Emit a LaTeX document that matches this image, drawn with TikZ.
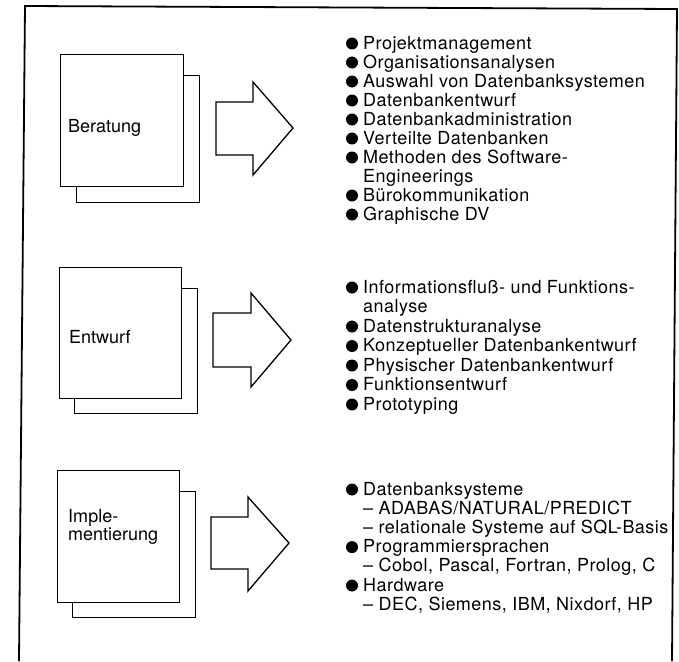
\documentclass[tikz,border=0pt]{standalone}
\usepackage{fontspec}
\setmainfont{TeX Gyre Heros}
\newfontfamily\listfont[LetterSpace=2.6]{TeX Gyre Heros}
\usetikzlibrary{calc}
\begin{document}
\begin{tikzpicture}[x=1pt,y=-1pt,
  frame/.style={line width=1.8pt,line join=miter},
  page/.style={draw,fill=white,line width=1.3pt,minimum width=123pt,minimum height=132pt,inner sep=0pt,anchor=north west},
  blockarrow/.style={draw,fill=white,line width=1.3pt,line join=miter},
  item/.style={anchor=base west,inner sep=0pt,font=\listfont\fontsize{18}{19}\selectfont},
  lbl/.style={anchor=base west,inner sep=0pt,font=\fontsize{18}{18}\selectfont,align=left},
  bul/.style={fill=black}]
\useasboundingbox (0,0) rectangle (679,661);
\fill[white] (0,0) rectangle (679,661);
% outer frame
\draw[frame] (19,661) -- (25,6) -- (677,9) -- (672,661);

% ---------- Beratung ----------
\node[page,minimum height=127pt] (b1back) at (76,75) {};
\node[page] (b1) at (60,54) {};
\node[lbl] (b1t) at (68,132) {Beratung};
\draw[blockarrow] (216,102) -- (253,102) -- (253,82) -- (293,128) -- (253,175) -- (253,155) -- (216,155) -- cycle;

\foreach \t [count=\i from 0] in {Projektmanagement,Organisationsanalysen,Auswahl von Datenbanksystemen,Datenbankentwurf,Datenbankadministration,Verteilte Datenbanken,Methoden des Software-,Engineerings,Bürokommunikation,Graphische DV}{
  \node[item] (a\i) at (363,49+19*\i) {\t};
}
\foreach \i in {0,1,2,3,4,5,6,8,9}{
  \fill[bul] ($(a\i.base west)+(-11,-5.5)$) circle (6);
}

% ---------- Entwurf ----------
\node[page,minimum height=125pt] (b2back) at (74,288) {};
\node[page,minimum width=122pt,minimum height=131pt] (b2) at (59,267) {};
\node[lbl] (b2t) at (69,343) {Entwurf};
\draw[blockarrow] (213,313) -- (251,313) -- (251,293) -- (291,340) -- (251,387) -- (251,367) -- (213,367) -- cycle;

\foreach \t [count=\i from 0] in {Informationsfluß- und Funktions-,analyse,Datenstrukturanalyse,Konzeptueller Datenbankentwurf,Physischer Datenbankentwurf,Funktionsentwurf,Prototyping}{
  \node[item] (e\i) at (363,293+19.5*\i) {\t};
}
\foreach \i in {0,2,3,4,5,6}{
  \fill[bul] ($(e\i.base west)+(-11,-5.5)$) circle (6);
}

% ---------- Implementierung ----------
\node[page,minimum height=126pt] (b3back) at (72,491) {};
\node[page,minimum width=122pt] (b3) at (57,470) {};
\node[lbl] (b3t) at (68,540) {Imple-\\mentierung};
\draw[blockarrow] (211,517) -- (248,517) -- (248,497) -- (289,543) -- (248,591) -- (248,569) -- (211,569) -- cycle;

\foreach \t [count=\i from 0] in {Datenbanksysteme,{– ADABAS/NATURAL/PREDICT},{– relationale Systeme auf SQL-Basis},Programmiersprachen,{– Cobol, Pascal, Fortran, Prolog, C},Hardware,{– DEC, Siemens, IBM, Nixdorf, HP}}{
  \node[item] (i\i) at (363,495+19.2*\i) {\t};
}
\foreach \i in {0,3,5}{
  \fill[bul] ($(i\i.base west)+(-11,-5.5)$) circle (6);
}
\end{tikzpicture}
\end{document}
